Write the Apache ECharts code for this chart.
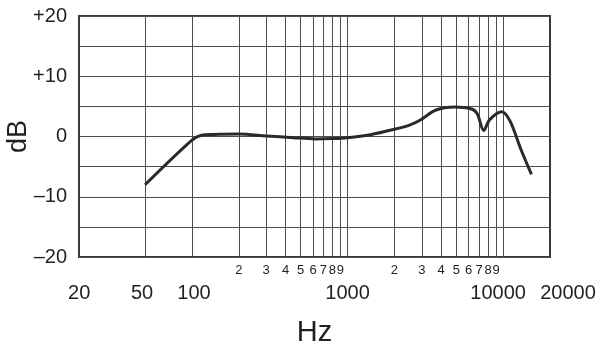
<!DOCTYPE html>
<html>
<head>
<meta charset="utf-8">
<script src="https://cdn.jsdelivr.net/npm/echarts@6/dist/echarts.min.js"></script>
<style>
  html, body { margin: 0; padding: 0; background: #fff; }
  #chart { width: 603px; height: 345px; }
</style>
</head>
<body>
<div id="chart"></div>
<script>
// Frequency response, log frequency axis
const freqHz = [50, 100, 115, 140, 200, 300, 450, 620, 800, 1000, 1400, 2000, 2500, 2900, 3700, 4900, 6200, 6800, 7500, 8200, 9800, 11100, 12900, 15200];
const levelDb = [-8, -0.6, 0.2, 0.35, 0.4, 0.1, -0.2, -0.4, -0.35, -0.2, 0.3, 1.2, 1.9, 2.65, 4.4, 4.9, 4.6, 3.8, 1.0, 2.8, 4.1, 2.5, -1.9, -6.3];

// Vertical grid lines
const gridFreqs = [50, 100, 200, 300, 400, 500, 600, 700, 800, 900, 1000,
                   2000, 3000, 4000, 5000, 6000, 7000, 8000, 9000, 10000];
// Small in-decade digit labels
const digitFreqs = [200, 300, 400, 500, 600, 700, 800, 900,
                    2000, 3000, 4000, 5000, 6000, 7000, 8000, 9000];
// Main frequency labels
const mainFreqs = [20, 50, 100, 1000, 10000, 20000];

const xMin = 18.8, xMax = 20000;
const yMin = -20, yMax = 20, yStep = 5;

// horizontal nudges for the main labels (px, + = right)
const labelNudge = { 20: -4, 50: -3, 100: 2, 1000: 0, 10000: -5, 20000: 18 };

const textColor = '#231f20';
const lineGrey = '#4d4d4d';

const rich = {};
mainFreqs.forEach(f => {
  const d = labelNudge[f] || 0;
  rich['f' + f] = {
    fontSize: 20,
    color: textColor,
    fontFamily: 'Liberation Sans, Arial, sans-serif',
    padding: d >= 0 ? [0, 0, 0, 2 * d] : [0, -2 * d, 0, 0]
  };
});

const chart = echarts.init(document.getElementById('chart'), null, { renderer: 'canvas' });
chart.setOption({
  animation: false,
  backgroundColor: '#fff',
  textStyle: { fontFamily: 'Liberation Sans, Arial, sans-serif', color: textColor },
  grid: {
    left: 79, right: 53, top: 16, bottom: 88,
    containLabel: false, outerBoundsMode: 'none',
    show: true, borderColor: '#3a3a3a', borderWidth: 2, backgroundColor: 'transparent'
  },
  xAxis: [
    {
      type: 'log', logBase: 10, min: xMin, max: xMax,
      name: 'Hz', nameLocation: 'middle', nameGap: 61, nameMoveOverlap: false,
      nameTextStyle: { fontSize: 29, color: textColor },
      axisLine: { show: false },
      axisTick: { show: false, customValues: gridFreqs },
      splitLine: { show: true, lineStyle: { color: lineGrey, width: 1 } },
      minorTick: { show: false }, minorSplitLine: { show: false },
      axisLabel: {
        customValues: digitFreqs, fontSize: 13, margin: 6.5, color: textColor,
        formatter: v => String(Math.round(v / Math.pow(10, Math.floor(Math.log10(v) + 1e-9))))
      }
    },
    {
      type: 'log', logBase: 10, min: xMin, max: xMax, position: 'bottom',
      axisLine: { show: false },
      axisTick: { show: false, customValues: mainFreqs },
      splitLine: { show: false },
      axisLabel: {
        customValues: mainFreqs, margin: 26, rich: rich,
        formatter: v => '{f' + Math.round(v) + '|' + Math.round(v) + '}'
      }
    }
  ],
  yAxis: {
    type: 'value', min: yMin, max: yMax, interval: yStep,
    name: 'dB', nameLocation: 'middle', nameGap: 47, nameRotate: 90, nameMoveOverlap: false,
    nameTextStyle: { fontSize: 27, color: textColor },
    axisLine: { show: false }, axisTick: { show: false },
    splitLine: { show: true, lineStyle: { color: lineGrey, width: 1 } },
    axisLabel: {
      fontSize: 20, margin: 12, color: textColor,
      formatter: v => (v % 10 !== 0 ? '' : v > 0 ? '+' + v : v < 0 ? '\u2013' + Math.abs(v) : '0')
    }
  },
  series: [{
    type: 'line', xAxisIndex: 0,
    data: freqHz.map((f, i) => [f, levelDb[i]]),
    smooth: 0.3, showSymbol: false, symbol: 'none',
    lineStyle: { color: '#2a2a2e', width: 3 }
  }]
});
</script>
</body>
</html>
